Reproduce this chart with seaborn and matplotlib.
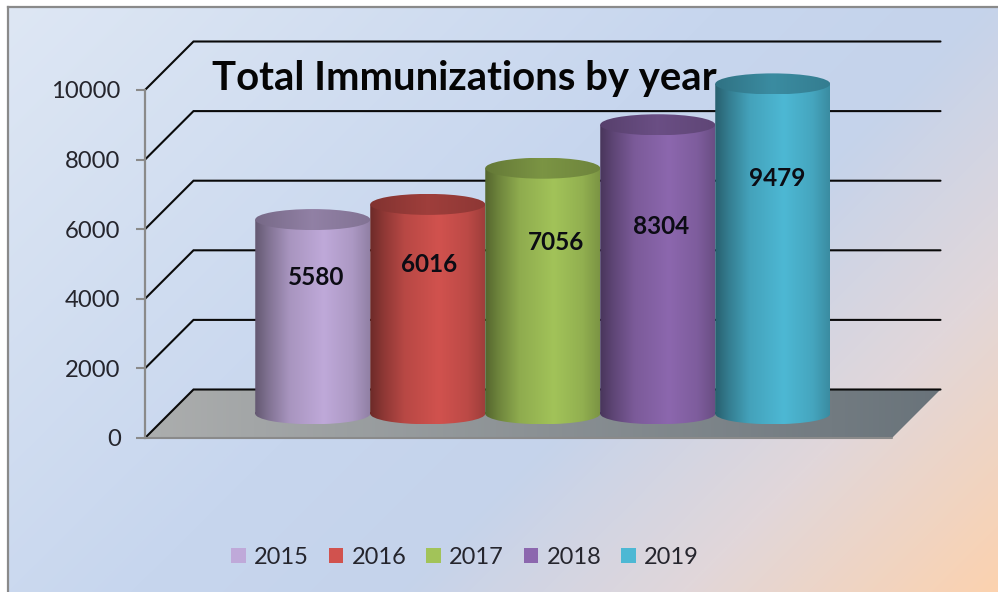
# total immunizations by year - fake 3d cylinders like the excel chart
import numpy as np
import pandas as pd
import seaborn as sns
from matplotlib import pyplot as plt
from matplotlib.colors import LinearSegmentedColormap
from matplotlib.patches import Ellipse, Patch
from matplotlib.path import Path

# --- DATA ---
years = ["2015", "2016", "2017", "2018", "2019"]
immunizations = [5580, 6016, 7056, 8304, 9479]
colors = ["#BFA9D9", "#D1524E", "#A2C359", "#8C67AE", "#4DB8D4"]
y_ticks = [0, 2000, 4000, 6000, 8000, 10000]
title_str = "Total Immunizations by year"

# --- LAYOUT (pixels in the 998x592 picture) ---
W, H = 998, 592
label_px = [(316, 278), (429, 265), (556, 242), (661, 227), (777, 178)]
px_per_val = 348 / 10000
px_per_cat = 115
depth_px = 48.5
cap_px = 10.5

sns.set_style("white")
plt.rcParams['font.family'] = ['Lato', 'DejaVu Sans']
text_col = "#25252d"


def px_rect(left, top, right, bottom):
    return [left / W, 1 - bottom / H, (right - left) / W, (bottom - top) / H]


def shaded(col, stops):
    rgb = np.array(plt.matplotlib.colors.to_rgb(col))
    u = np.linspace(0, 1, 256)
    f = np.interp(u, [s[0] for s in stops], [s[1] for s in stops])
    return np.clip(rgb[None, None, :] * f[None, :, None], 0, 1)


body_stops = [(0, 0.52), (0.12, 0.68), (0.3, 0.88), (0.6, 1.0), (0.85, 0.9), (1, 0.76)]
cap_stops = [(0, 0.62), (0.5, 0.76), (1, 0.68)]

fig = plt.figure(figsize=(W / 100, H / 100), dpi=100, facecolor="white")

# background panel with the diagonal gradient
ax_bg = fig.add_axes(px_rect(8, 7, W, H))
xx, yy = np.meshgrid(np.arange(W), np.arange(H))
bg_cmap = LinearSegmentedColormap.from_list("bg", [
    (0.0, (222 / 255, 231 / 255, 244 / 255)),
    (0.45, (199 / 255, 214 / 255, 238 / 255)),
    (0.62, (197 / 255, 211 / 255, 235 / 255)),
    (0.8, (225 / 255, 215 / 255, 218 / 255)),
    (1.0, (252 / 255, 210 / 255, 175 / 255))])
ax_bg.imshow((xx + yy) / (W + H), cmap=bg_cmap, vmin=0, vmax=1, aspect='auto')
ax_bg.set_xticks([])
ax_bg.set_yticks([])
for side in ["right", "bottom"]:
    ax_bg.spines[side].set_visible(False)
for side in ["left", "top"]:
    ax_bg.spines[side].set_color("#8a8a8a")
    ax_bg.spines[side].set_linewidth(1.6)

# front plane axes: holds the ticks, floor and grid
front_w = 747
dx = depth_px / px_per_cat
dy = depth_px / px_per_val
x_min = -0.5 - (front_w / px_per_cat - 5) / 2
x_max = x_min + front_w / px_per_cat

ax = fig.add_axes(px_rect(145, 438 - (10000 + dy) * px_per_val, 145 + front_w + depth_px, 438),
                  facecolor="none", zorder=2)
floor_img = np.linspace(0, 1, 256)[None, :, None] * np.array([105 - 172, 115 - 174, 122 - 174]) / 255 \
    + np.array([172, 174, 174]) / 255
im = ax.imshow(floor_img, extent=[x_min, x_max + dx, 0, dy], aspect='auto', zorder=1)
floor = Path([(x_min, 0), (x_min + dx, dy), (x_max + dx, dy), (x_max, 0), (x_min, 0)])
im.set_clip_path(floor, ax.transData)
for v in y_ticks:
    ax.plot([x_min, x_min + dx, x_max + dx], [v, v + dy, v + dy], color="#0a0a0a", lw=1.5,
            zorder=2, solid_joinstyle='miter', clip_on=False)
ax.plot([x_min, x_max], [0, 0], color="#8a8a8a", lw=1.5, zorder=3, clip_on=False)

ax.set_xlim(x_min, x_max + dx)
ax.set_ylim(0, 10000 + dy)
ax.set_xticks([])
ax.set_yticks(y_ticks)
ax.set_yticklabels([str(v) for v in y_ticks], fontsize=17.2, color=text_col)
ax.tick_params(axis='y', left=True, length=6.5, width=1.5, color="#8a8a8a", pad=11)
for side in ["right", "top", "bottom"]:
    ax.spines[side].set_visible(False)
ax.spines["left"].set_bounds(0, 10000)
ax.spines["left"].set_color("#8a8a8a")
ax.spines["left"].set_linewidth(1.6)

# cylinders sit half way into the depth
extra = 20 / px_per_val
shift = depth_px / 2
ax_bars = fig.add_axes(px_rect(145 + shift, 90 - shift, 145 + shift + front_w, 438 - shift + 20),
                       facecolor="none", zorder=3)
df = pd.DataFrame({"year": years, "count": immunizations})
sns.barplot(data=df, x="year", y="count", hue="year", palette=colors, saturation=1,
            width=1, gap=0, legend=False, linewidth=0, ax=ax_bars)
cap = cap_px / px_per_val
for i, bar in enumerate(ax_bars.patches[:len(years)]):
    x0, w, h = bar.get_x(), bar.get_width(), bar.get_height()
    z = 5 + i
    bar.set_visible(False)
    base = Ellipse((x0 + w / 2, 0), w, 2 * cap)
    body = Path.make_compound_path(
        Path([(x0, 0), (x0 + w, 0), (x0 + w, h), (x0, h), (x0, 0)]),
        base.get_path().transformed(base.get_patch_transform()))
    img = ax_bars.imshow(shaded(colors[i], body_stops), extent=[x0, x0 + w, -cap, h],
                         aspect='auto', zorder=z)
    img.set_clip_path(body, ax_bars.transData)
    top = Ellipse((x0 + w / 2, h), w, 2 * cap)
    top_path = top.get_path().transformed(top.get_patch_transform())
    img2 = ax_bars.imshow(shaded(colors[i], cap_stops), extent=[x0, x0 + w, h - cap, h + cap],
                          aspect='auto', zorder=z + 0.5)
    img2.set_clip_path(top_path, ax_bars.transData)
ax_bars.set_xlim(x_min, x_max)
ax_bars.set_ylim(-extra, 10000)
ax_bars.axis("off")

# data labels
for val, (px, py) in zip(immunizations, label_px):
    fig.text(px / W, 1 - py / H, str(val), ha="center", va="center", fontsize=17.5,
             fontweight="bold", color="#0c0c14", zorder=10)

fig.text(212 / W, 1 - 90 / H, title_str, ha="left", va="baseline", fontsize=28.8,
         fontweight="bold", color="#050505", zorder=10)

handles = [Patch(facecolor=c, edgecolor="none") for c in colors]
fig.legend(handles, years, loc="center", bbox_to_anchor=(465 / W, 1 - 557 / H), ncol=5,
           frameon=False, fontsize=17, handlelength=0.62, handleheight=0.62,
           handletextpad=0.35, columnspacing=0.84, labelcolor=text_col)

fig.savefig("out.png", dpi=100)
